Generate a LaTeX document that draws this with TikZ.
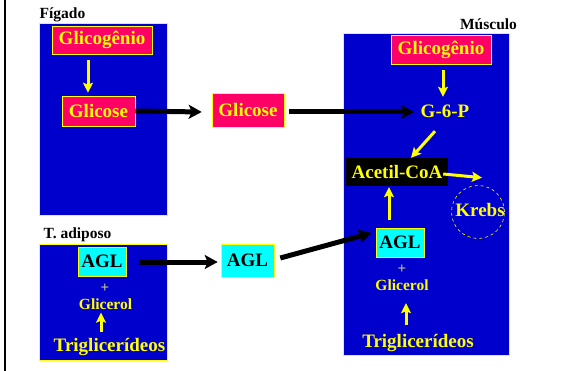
\documentclass[tikz,border=0pt]{standalone}
\usepackage{fontspec}
\setmainfont{Liberation Serif}
\usetikzlibrary{arrows.meta}
\definecolor{boxblue}{HTML}{0000CC}
\definecolor{mag}{HTML}{FF0066}
\definecolor{yel}{HTML}{FFFF00}
\definecolor{cy}{HTML}{00FFFF}
\definecolor{plusc}{HTML}{C8C890}
\begin{document}
\begin{tikzpicture}[x=1pt,y=-1pt,
  tissue/.style={draw=yel,fill=boxblue,line width=0.7pt},
  bigf/.style={font=\fontsize{19}{21}\selectfont\bfseries},
  magbox/.style={bigf,draw=yel,fill=mag,text=yel,inner sep=0pt,line width=0.6pt},
  cybox/.style={bigf,draw=yel,fill=cy,text=black,inner sep=0pt,line width=0.6pt},
  ytext/.style={bigf,text=yel,inner sep=0pt,text height=13pt,text depth=4pt},
  stext/.style={text=yel,font=\fontsize{15.5}{17}\selectfont\bfseries,inner sep=0pt,text height=10pt,text depth=3pt},
  plus/.style={text=plusc,font=\fontsize{15}{16}\selectfont\bfseries,inner sep=0pt},
  lab/.style={text=black,font=\fontsize{15.5}{17}\selectfont\bfseries,inner sep=0pt},
  ya/.style={draw=yel,line width=3pt,-{Stealth[length=10pt,width=10pt,inset=2pt]}},
  ba/.style={draw=black,line width=5pt,-{Stealth[length=13pt,width=14pt,inset=3pt]}}]
\useasboundingbox (0,0) rectangle (561,371);
\fill[white] (0,0) rectangle (561,371);
\draw[line width=2pt] (5,0) -- (5,371);
% tissue boxes
\draw[tissue] (39,23) rectangle (167,215);
\draw[tissue] (39,244) rectangle (167,360);
\draw[tissue] (343,33) rectangle (509,355);
\node[lab] (lf) at (62.5,15) {Fígado};
\node[lab] (lt) at (77.5,235) {T. adiposo};
\node[lab] (lm) at (488.5,24) {Músculo};
% liver
\node[magbox,minimum width=100pt,minimum height=28pt] (g1) at (102,40) {Glicogênio};
\node[magbox,minimum width=73pt,minimum height=30pt] (gl1) at (98.5,111) {Glicose};
% blood
\node[magbox,minimum width=72pt,minimum height=34pt] (gl2) at (248,110) {Glicose};
\node[cybox,minimum width=53pt,minimum height=33pt] (agl2) at (247.5,260.5) {AGL};
% muscle
\node[magbox,minimum width=100pt,minimum height=29pt] (g2) at (441,49.5) {Glicogênio};
\node[ytext] (g6p) at (445,113) {G-6-P};
\node[bigf,fill=black,text=yel,inner sep=0pt,minimum width=102pt,minimum height=28pt] (acoa) at (397,172) {Acetil-CoA};
\node[draw=yel,dashed,circle,line width=0.6pt,minimum size=53pt,inner sep=0pt] (krc) at (478,212) {};
\node[ytext] (kr) at (480,212) {Krebs};
\node[cybox,minimum width=48pt,minimum height=29pt] (agl3) at (400,242.5) {AGL};
\node[plus] (p3) at (402,269) {+};
\node[stext] (gc3) at (402,287) {Glicerol};
\node[ytext] (tg3) at (418,343) {Triglicerídeos};
% adipose
\node[cybox,minimum width=48pt,minimum height=29pt] (agl1) at (102,261.5) {AGL};
\node[plus] (p1) at (105,288) {+};
\node[stext] (gc1) at (105.5,306) {Glicerol};
\node[ytext] (tg1) at (109.5,347) {Triglicerídeos};
% arrows
\draw[ya] ([xshift=-14pt,yshift=-6pt]g1.south) -- ([xshift=-10.5pt,yshift=3pt]gl1.north);
\draw[ba] (gl1.east) -- ([xshift=-10pt,yshift=-2pt]gl2.west);
\draw[ba] ([xshift=5pt,yshift=-2pt]gl2.east) -- ([xshift=-6.5pt,yshift=1pt]g6p.west);
\draw[ya] ([xshift=2pt,yshift=-6pt]g2.south) -- ([xshift=-2pt,yshift=7.5pt]g6p.north);
\draw[ya] ([xshift=-10pt,yshift=-9.5pt]g6p.south) -- ([xshift=14pt]acoa.north);
\draw[ya] ([xshift=-5pt,yshift=-2pt]acoa.east) -- ([xshift=4pt,yshift=7.5pt]krc.north);
\draw[ya] ([xshift=-11pt,yshift=8pt]agl3.north) -- ([xshift=-8pt,yshift=-1pt]acoa.south);
\draw[ba] ([xshift=13pt,yshift=-0.5pt]agl1.east) -- ([xshift=-3pt,yshift=-1.5pt]agl2.west);
\draw[ba] ([xshift=6pt,yshift=2.5pt]agl2.east) -- ([xshift=-4pt,yshift=9.5pt]agl3.west);
\draw[ya] ([xshift=-8.5pt,yshift=6.5pt]tg1.north) -- ([xshift=-4.5pt,yshift=0pt]gc1.south);
\draw[ya] ([xshift=-12pt,yshift=9.5pt]tg3.north) -- ([xshift=4pt,yshift=-9.5pt]gc3.south);
\end{tikzpicture}
\end{document}
